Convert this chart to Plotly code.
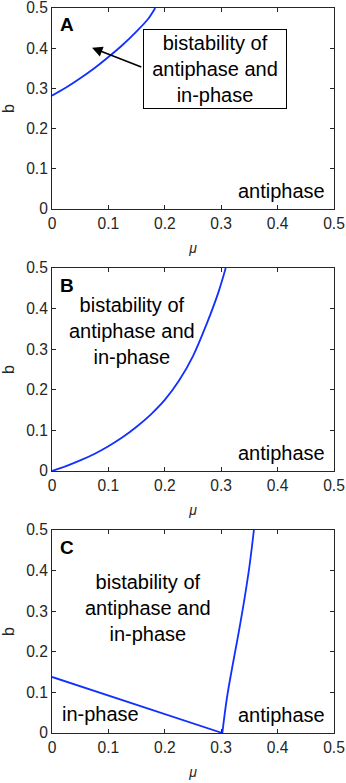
import plotly.graph_objects as go

# boundary curves
mu_a = [0, 0.025, 0.05, 0.075, 0.1, 0.125, 0.15, 0.17, 0.183]
b_a = [0.282, 0.302, 0.325, 0.35, 0.378, 0.408, 0.442, 0.472, 0.5]

mu_b = [0, 0.025, 0.05, 0.075, 0.1, 0.125, 0.15, 0.175, 0.2, 0.225, 0.25, 0.275, 0.295, 0.308]
b_b = [0, 0.012, 0.026, 0.042, 0.061, 0.083, 0.109, 0.139, 0.175, 0.222, 0.283, 0.365, 0.44, 0.5]

mu_c1 = [0, 0.302]
b_c1 = [0.138, 0]
mu_c2 = [0.302, 0.31, 0.32, 0.33, 0.34, 0.35, 0.358]
b_c2 = [0, 0.085, 0.165, 0.24, 0.32, 0.41, 0.5]

ticks = [0, 0.1, 0.2, 0.3, 0.4, 0.5]
tick_text = ["0", "0.1", "0.2", "0.3", "0.4", "0.5"]

FONT = "Liberation Sans, Arial, sans-serif"
AXC = "#262626"
BLUE = "#1030ff"

fig = go.Figure()
curves = [(mu_a, b_a, "x", "y"), (mu_b, b_b, "x2", "y2"),
          (mu_c1, b_c1, "x3", "y3"), (mu_c2, b_c2, "x3", "y3")]
for xs, ys, xa, ya in curves:
    fig.add_trace(go.Scatter(x=xs, y=ys, mode="lines",
                             line=dict(color=BLUE, width=1.8, shape="spline", smoothing=1.0),
                             xaxis=xa, yaxis=ya))

domains = [[0.7228, 1.0], [0.3614, 0.6414], [0.0, 0.28]]
ax_common = dict(range=[0, 0.5], tickvals=ticks, ticktext=tick_text, ticks="inside",
                 ticklen=4, tickcolor=AXC, showline=True, linecolor=AXC, linewidth=1,
                 mirror="ticks", showgrid=False, zeroline=False, automargin=False,
                 ticklabeloverflow="allow",
                 tickfont=dict(family=FONT, size=15.6, color=AXC))
layout = {}
for i, dom in enumerate(domains):
    n = "" if i == 0 else str(i + 1)
    layout["xaxis" + n] = dict(ax_common, domain=[0, 1], anchor="y" + n,
                               title=dict(text="<i>μ</i>", standoff=12,
                                          font=dict(family=FONT, size=14, color=AXC)))
    layout["yaxis" + n] = dict(ax_common, domain=dom, anchor="x" + n,
                               title=dict(text="b", standoff=12,
                                          font=dict(family=FONT, size=16, color=AXC)))

txt = dict(family=FONT, size=20, color="black")
ann = []
for i, lab in enumerate(["A", "B", "C"]):
    n = "" if i == 0 else str(i + 1)
    ann.append(dict(x=0.011, y=0.458, xref="x" + n, yref="y" + n, text="<b>%s</b>" % lab,
                    showarrow=False, xanchor="left", yanchor="middle",
                    font=dict(family=FONT, size=19, color="black")))
    ann.append(dict(x=0.488, y=0.044, xref="x" + n, yref="y" + n, text="antiphase",
                    showarrow=False, xanchor="right", yanchor="middle", font=txt))

ann.append(dict(x=0.289, y=0.348, xref="x", yref="y",
                text="bistability of<br>antiphase and<br>in-phase", showarrow=False,
                font=txt, bgcolor="white", bordercolor="black", borderwidth=1, borderpad=1,
                width=140, height=76))
ann.append(dict(x=0.071, y=0.401, ax=0.161, ay=0.352, xref="x", yref="y", axref="x", ayref="y",
                text="", showarrow=True, arrowhead=2, arrowsize=1.3, arrowwidth=1.6,
                arrowcolor="black"))
ann.append(dict(x=0.142, y=0.346, xref="x2", yref="y2",
                text="bistability of<br>antiphase and<br>in-phase", showarrow=False, font=txt))
ann.append(dict(x=0.17, y=0.307, xref="x3", yref="y3",
                text="bistability of<br>antiphase and<br>in-phase", showarrow=False, font=txt))
ann.append(dict(x=0.014, y=0.047, xref="x3", yref="y3", text="in-phase",
                showarrow=False, xanchor="left", yanchor="middle", font=txt))

fig.update_layout(**layout)
fig.update_layout(
    annotations=ann,
    width=346, height=783,
    margin=dict(l=52, r=12, t=8, b=50),
    showlegend=False,
    paper_bgcolor="white", plot_bgcolor="white",
    font=dict(family=FONT, color=AXC),
)

# page has a default 8px body margin; drop it so the figure sits at the window corner
fig.write_html("out.html", config={"displayModeBar": False},
               post_script="document.body.style.margin='0';")
